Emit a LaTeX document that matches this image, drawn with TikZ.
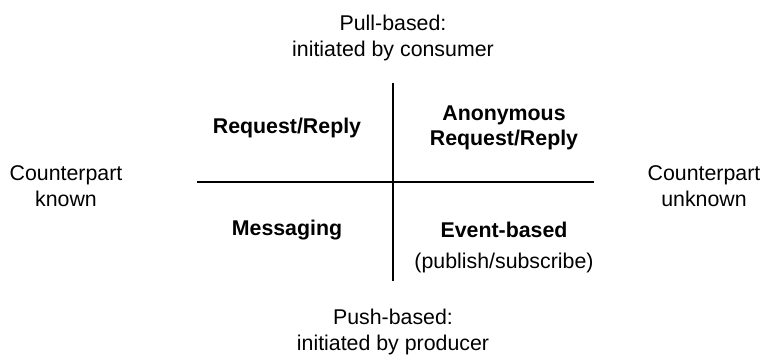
\documentclass[tikz,border=0pt]{standalone}
\usepackage{fontspec}
\setmainfont{Liberation Sans}

\begin{document}
\begin{tikzpicture}[x=0.75pt,y=-0.75pt,
  axislbl/.style={align=center,inner sep=0pt,font=\fontsize{16}{19}\selectfont},
  quadlbl/.style={axislbl,font=\fontsize{16}{19}\selectfont\bfseries},
  axisline/.style={black,line width=1.5pt}]
  \useasboundingbox (0,0) rectangle (761,354);

  % the two axes
  \coordinate (top) at (393,83);
  \coordinate (bottom) at (393,281);
  \coordinate (left) at (197,182);
  \coordinate (right) at (594,182);
  \draw[axisline] (top)--(bottom);
  \draw[axisline] (left)--(right);

  % axis labels
  \node[axislbl] (pull) at (393,38) {Pull-based:\\initiated by consumer};
  \node[axislbl] (push) at (393,332) {Push-based:\\initiated by producer};
  \node[axislbl] (known) at (66,186) {Counterpart\\known};
  \node[axislbl] (unknown) at (704,186) {Counterpart\\unknown};

  % quadrants
  \node[quadlbl] (reqrep) at (287,128) {Request/Reply};
  \node[quadlbl] (anonreq) at (504,128) {Anonymous\\Request/Reply};
  \node[quadlbl] (msging) at (287,230) {Messaging};
  \node[quadlbl] (evbased) at (504,230) {Event-based};
  \node[axislbl] (pubsub) at (504,263) {(publish/subscribe)};
\end{tikzpicture}
\end{document}
